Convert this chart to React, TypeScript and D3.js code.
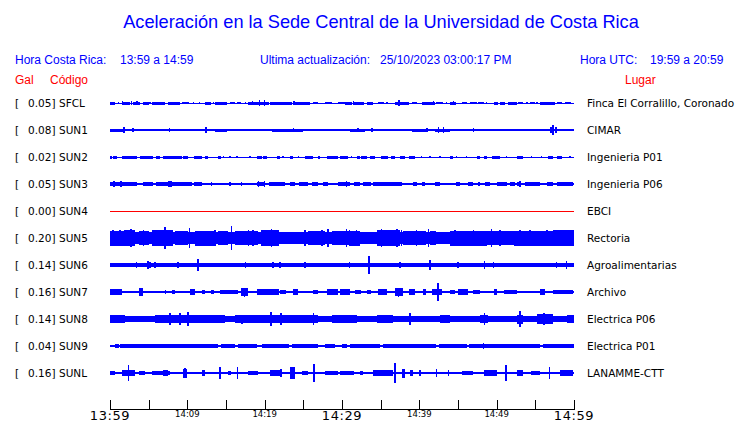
import React from "react";
import * as d3 from "d3";

// ---------- data (amplitudes in mGal, times in minutes from 13:59) ----------
const CODES = ["SFCL", "SUN1", "SUN2", "SUN3", "SUN4", "SUN5", "SUN6", "SUN7", "SUN8", "SUN9", "SUNL"];
const PLACES = [
  "Finca El Corralillo, Coronado", "CIMAR", "Ingenieria P01", "Ingenieria P06", "EBCI", "Rectoria",
  "Agroalimentarias", "Archivo", "Electrica P06", "Electrica P01", "LANAMME-CTT",
];
const PEAKS = ["0.05", "0.08", "0.02", "0.05", "0.00", "0.20", "0.14", "0.16", "0.14", "0.04", "0.16"];
const CORES = [8, 10, 8, 22, 0, 95, 28, 22, 42, 17, 22];

const TIME_TICKS = [0, 5, 10, 15, 20, 25, 30, 35, 40, 45, 50, 55, 60];
const TIME_LABELS: [number, string, boolean][] = [
  [0, "13:59", true], [10, "14:09", false], [20, "14:19", false], [30, "14:29", true],
  [40, "14:39", false], [50, "14:49", false], [60, "14:59", true],
];

const SFCL_B = [[0,0.65,25],[1.5,2.6,25],[3.0,3.9,25],[4.3,5.0,25],[5.4,7.1,25],[7.5,9.05,25],[9.3,9.9,17],[12.3,13.1,25],[13.6,15.1,25],[15.5,16.2,22],[16.4,17.0,22],[17.9,20.5,25],[20.7,23.5,25],[23.7,25.9,25],[26.3,26.9,22],[27.8,28.7,22],[29.5,30.4,22],[30.4,31.25,25],[31.5,32.8,25],[33.2,34.05,25],[34.7,35.4,20],[36.85,38.6,25],[39.0,39.65,22],[40.3,42.0,25],[42.2,43.1,22],[44.0,44.8,25],[45.5,46.1,22],[46.5,47.4,22],[47.6,48.3,20],[49.6,50.2,25],[50.4,51.1,25],[51.5,52.6,25],[52.8,53.45,22],[54.3,55.0,22],[55.6,57.5,25],[57.75,58.4,22],[58.8,59.3,20]];
const SFCL_S = [[1.1,17],[1.6,38],[2.8,33],[3.5,33],[5.2,17],[10.1,17],[10.8,17],[11.6,17],[13.4,17],[17.5,17],[18.4,33],[19.3,42],[20.0,50],[23.8,38],[31.5,33],[34.9,17],[35.8,17],[37.4,42],[39.65,17],[41.8,28],[43.5,17],[44.4,33],[48.7,17],[53.9,17],[55.2,17],[59.5,17]];

const SUN1_B = [[0,2,25],[2,5.8,22],[6.25,13.6,22],[13.6,15.1,25],[15.1,16.4,22],[17.0,19.0,24],[19.6,21,22],[21,25,25],[25,28.7,22],[29.5,31,22],[31,33,25],[33,39,22],[39,41,25],[41,42,22],[42,44,25],[44,48.5,22],[48.9,54.5,22],[55.6,57,22],[57,60,24]];
const SUN1_S = [[1.8,45],[3.0,33],[7.7,33],[12.4,55],[23.7,38],[32.1,38],[33.9,33],[41.0,33],[42.5,58],[43.1,42],[47.0,33],[57.0,50],[57.3,80],[57.7,45]];

const SUN2_B = [[0,0.2,25],[0.4,0.9,25],[1.5,3.45,25],[3.9,5.6,25],[6.0,6.5,25],[6.9,9.3,25],[9.5,10.1,25],[10.8,11.85,25],[12.3,12.7,25],[14.0,14.4,25],[19.0,19.6,25],[19.8,20.3,25],[21.55,22.0,25],[23.3,23.7,25],[25.2,26.3,25],[26.9,27.2,25],[28.0,29.5,25],[29.7,30.8,25],[31.9,32.3,25],[32.5,33.2,25],[33.6,34.3,25],[35.1,36.0,25],[36.4,36.85,25],[37.5,38.1,25],[38.6,39.4,25],[44.0,44.4,25],[47.4,47.85,25],[48.3,48.7,25],[49.35,50.4,25],[52.6,53.45,25],[56.7,57.3,25],[57.75,58.4,25]];
const SUN2_S = [[14.7,20],[15.5,20],[16.4,20],[18.1,20],[22.4,20],[24.4,20],[31.25,20],[40.3,20],[41.4,20],[42.7,20],[44.8,20],[46.1,20],[51.3,20],[54.5,20],[55.8,20],[59.5,20]];

const SUN3_B = [[0,3.45,36],[4.3,5.6,33],[6.0,7.5,36],[7.5,8.0,42],[8.0,10.6,36],[10.8,11.85,33],[19.0,20.0,33],[20.5,22.6,30],[23.3,23.9,33],[24.4,25.6,36],[26.1,26.9,30],[27.6,28.2,30],[29.5,31.0,38],[31.5,32.3,30],[32.76,33.8,33],[34.05,37.7,33],[39.2,39.65,36],[40.3,40.7,30],[42.0,42.7,33],[44.8,45.3,30],[46.3,47.0,30],[47.6,47.85,30],[48.5,49.1,30],[50.0,51.3,30],[51.7,52.4,30],[52.6,53.2,38],[53.7,55.6,33],[56.5,57.3,33],[57.75,59.9,33]];
const SUN3_S = [[0.5,45],[1.4,42],[7.75,55],[13.1,33],[15.5,33],[17.0,33],[19.2,45],[20.0,45],[30.6,50],[53.0,45]];

const SUN4_B: number[][] = [];
const SUN4_S: number[][] = [];

const SUN5_B = [[0,1.9,125],[1.9,3.2,135],[3.7,5.0,120],[5.4,8.0,130],[8.4,10.1,115],[11.0,13.6,125],[14.0,15.3,120],[16.2,19.2,120],[19.6,21.8,130],[25.6,27.8,115],[28.7,31.0,122],[31.0,32.3,125],[34.5,37.5,130],[37.9,40.9,120],[41.4,42.2,120],[44.0,48.7,125],[48.7,52.2,120],[52.2,57.3,125],[57.3,60,128]];
const SUN5_S = [[0.4,140],[1.3,140],[1.9,140],[2.7,150],[3.2,140],[4.3,140],[6.5,140],[7.1,185],[8.0,140],[10.3,165],[13.6,140],[15.7,200],[17.9,140],[18.5,140],[19.6,140],[20.5,140],[20.9,150],[21.8,140],[25.2,140],[27.4,140],[28.2,150],[30.6,150],[31.0,140],[31.9,140],[35.1,150],[35.3,140],[37.1,158],[37.7,140],[39.65,140],[41.2,150],[44.6,140],[47.0,140],[49.35,158],[50.4,140],[53.0,140],[54.3,140],[56.5,140],[58.2,140],[59.5,140]];

const SUN6_B = [[0,0.6,38],[3.2,4.1,38],[4.5,6.25,38],[8.6,9.3,38],[11.2,11.85,38],[16.2,16.6,38],[17.2,18.75,38],[20.0,22.6,38],[25.0,25.6,38],[26.5,28.7,38],[30.6,31.25,38],[33.2,34.05,38],[37.1,37.7,38],[40.9,41.8,38],[44.6,45.5,38],[47.0,48.7,38],[49.35,49.8,38],[51.7,52.6,38],[57.3,58.2,38],[58.6,59.5,38]];
const SUN6_S = [[3.45,42],[4.9,70],[5.2,50],[5.8,42],[8.8,58],[11.4,95],[13.1,33],[16.4,33],[17.5,42],[18.3,33],[21.1,42],[22.0,58],[25.2,50],[26.9,33],[30.95,50],[33.5,150],[37.5,42],[41.4,83],[45.0,42],[48.4,67],[49.6,50],[52.1,33],[54.5,33],[56.0,33],[57.75,42],[59.05,67]];

const SUN7_B = [[0,1.5,42],[3.7,4.3,60],[7.1,7.3,33],[8.0,8.4,33],[10.3,11.0,42],[11.85,12.3,33],[13.1,13.4,33],[14.2,16.6,40],[17.0,17.9,65],[19.0,21.8,45],[22.0,22.8,38],[23.7,24.35,55],[26.3,26.9,38],[28.0,29.5,42],[29.74,31.0,42],[31.7,32.5,38],[33.2,33.8,38],[34.7,35.8,42],[36.85,37.9,65],[38.6,39.4,42],[40.5,40.9,42],[41.6,42.9,55],[44.0,44.6,38],[45.0,46.3,42],[47.0,47.85,38],[49.6,50.0,42],[50.9,52.6,38],[55.6,56.25,50],[57.3,59.9,40]];
const SUN7_S = [[4.1,67],[17.4,75],[23.9,58],[37.3,75],[42.4,150],[55.9,50]];

const SUN8_B = [[0,1.9,67],[2.8,4.5,58],[5.8,8,67],[8,10.5,62],[10.5,12.5,67],[12.5,14.9,62],[16.2,19,67],[19,22.5,62],[22.5,24.5,67],[24.5,26.9,62],[28.7,31.9,67],[32.5,33.8,55],[34.5,36.6,67],[38.1,39.0,58],[40,42,55],[42.7,44.0,67],[45,47,55],[47.85,48.9,67],[50.4,51.3,58],[52.6,53.45,75],[54,55,55],[55.2,57.3,80],[57.5,58.8,55],[59.05,60,67]];
const SUN8_S = [[7.75,100],[9.05,95],[10.1,112],[17.1,75],[20.8,112],[22.1,100],[26.3,100],[38.8,100],[48.4,108],[53.0,133],[56.1,100]];

const SUN9_B = [[0.6,1.1,28],[1.3,14.0,28],[14.4,16.2,28],[16.6,19.0,28],[19.6,23.1,28],[23.5,26.9,28],[27.8,29.1,28],[30.0,30.6,28],[31.0,34.9,28],[35.3,42.2,28],[42.5,46.1,28],[46.4,55.6,28],[56.0,60,28]];
const SUN9_S = [[4.1,38],[35.9,38],[38.8,33],[48.3,50]];

const SUNL_B = [[0,0.65,33],[1.5,3.2,42],[3.7,4.5,33],[5.4,6.9,40],[6.9,7.5,50],[7.5,7.75,40],[9.5,9.9,75],[11.85,12.3,55],[15.3,15.7,40],[17.9,19.2,40],[20.7,22.2,45],[23.3,23.9,95],[24.8,25.6,40],[27.8,29.5,40],[29.74,31.5,40],[32.3,32.76,33],[34.05,36.6,45],[37.7,38.1,75],[38.8,39.2,55],[45.5,47.0,40],[48.3,50.0,45],[52.6,53.45,45],[54.5,55.6,40],[58.2,59.9,45]];
const SUNL_S = [[2.4,128],[9.7,83],[14.2,95],[16.5,108],[22.1,67],[26.4,150],[36.85,167],[40.1,50],[42.2,67],[43.75,42],[51.2,133],[56.8,100]];

const BURSTS = [SFCL_B, SUN1_B, SUN2_B, SUN3_B, SUN4_B, SUN5_B, SUN6_B, SUN7_B, SUN8_B, SUN9_B, SUNL_B];
const SPIKES = [SFCL_S, SUN1_S, SUN2_S, SUN3_S, SUN4_S, SUN5_S, SUN6_S, SUN7_S, SUN8_S, SUN9_S, SUNL_S];

// ---------- layout ----------
const W = 740, H = 423;
const X0 = 110, X1 = 574;
const ROW0 = 103, ROW_STEP = 27;
const AXIS_Y = 409;
const BLUE = "#0000ff";
const RED = "#ff0000";
const SANS = "'Liberation Sans', Arial, Helvetica, sans-serif";
const DEJA = "'DejaVu Sans', sans-serif";

export default function App() {
  const x = d3.scaleLinear().domain([0, 60]).range([X0, X1]);
  const amp = d3.scaleLinear().domain([0, 200]).range([0, 12]);
  const rowY = (i: number) => ROW0 + i * ROW_STEP;

  return (
    <svg width={W} height={H} style={{ position: "absolute", left: 0, top: 0, background: "#fff" }}>
      <rect x={0} y={0} width={W} height={H} fill="#fff" />
      <text x={381} y={28} textAnchor="middle" fontFamily={SANS} fontSize={18.2} fill={BLUE}>
        Aceleración en la Sede Central de la Universidad de Costa Rica
      </text>
      <g fontFamily={SANS} fontSize={12} fill={BLUE}>
        <text x={15} y={64}>Hora Costa Rica:</text>
        <text x={120} y={64}>13:59 a 14:59</text>
        <text x={260} y={64}>Ultima actualización:</text>
        <text x={380} y={64}>25/10/2023 03:00:17 PM</text>
        <text x={580} y={64}>Hora UTC:</text>
        <text x={650} y={64}>19:59 a 20:59</text>
      </g>
      <g fontFamily={SANS} fontSize={12} fill={RED}>
        <text x={15} y={84}>Gal</text>
        <text x={50} y={84}>Código</text>
        <text x={625} y={84}>Lugar</text>
      </g>

      {CODES.map((code, i) => {
        const cy = rowY(i);
        return (
          <g key={code}>
            <g fontFamily={DEJA} fontSize={10.5} fill="#000">
              <text x={15} y={cy + 4}>[</text>
              <text x={55.5} y={cy + 4} textAnchor="end">{PEAKS[i]}]</text>
              <text x={59} y={cy + 4}>{code}</text>
              <text x={587} y={cy + 4}>{PLACES[i]}</text>
            </g>
            {CORES[i] === 0 ? (
              <rect x={X0} width={X1 - X0} y={cy - 0.5} height={1} fill={RED} shapeRendering="crispEdges" />
            ) : (
              <g fill={BLUE} shapeRendering="crispEdges">
                <rect x={X0} width={X1 - X0} y={cy - Math.max(0.5, amp(CORES[i]))} height={Math.max(1, 2 * amp(CORES[i]))} />
                {BURSTS[i].map((b, k) => (
                  <rect key={"b" + k} x={x(b[0])} width={Math.max(1, x(b[1]) - x(b[0]))} y={cy - amp(b[2])} height={2 * amp(b[2])} />
                ))}
                {SPIKES[i].map((s, k) => (
                  <rect key={"s" + k} x={x(s[0]) - 0.75} width={1.5} y={cy - amp(s[1])} height={2 * amp(s[1])} />
                ))}
              </g>
            )}
          </g>
        );
      })}

      <g stroke="#000" strokeWidth={1} shapeRendering="crispEdges">
        <line x1={X0} x2={X1 + 0.5} y1={AXIS_Y} y2={AXIS_Y} />
        {TIME_TICKS.map((t) => (
          <line key={t} x1={Math.round(x(t)) + 0.5} x2={Math.round(x(t)) + 0.5} y1={AXIS_Y - 9} y2={AXIS_Y} />
        ))}
      </g>
      {TIME_LABELS.map(([t, lab, big]) => (
        <text key={lab} x={x(t)} y={big ? 420 : 416.5} textAnchor="middle" fontFamily={DEJA}
          fontSize={big ? 13 : 8.5} fill="#000" letterSpacing={big ? 0.6 : 0}>
          {lab}
        </text>
      ))}
    </svg>
  );
}
